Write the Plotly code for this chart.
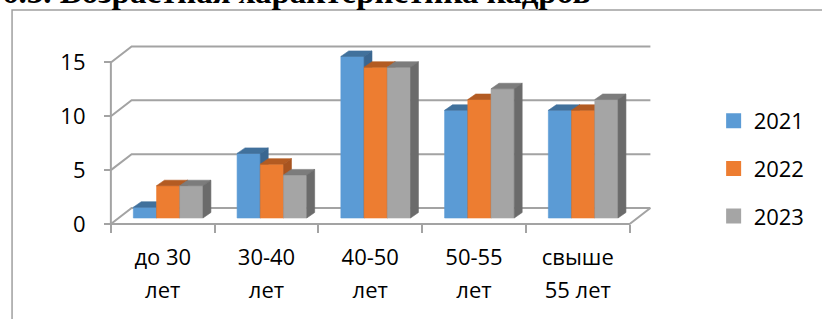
import plotly.graph_objects as go

# ---- data ----
categories = ["до 30<br>лет", "30-40<br>лет", "40-50<br>лет", "50-55<br>лет", "свыше<br>55 лет"]
years = ["2021", "2022", "2023"]
v2021 = [1, 6, 15, 10, 10]
v2022 = [3, 5, 14, 11, 10]
v2023 = [3, 4, 14, 12, 11]
y_ticks = [0, 5, 10, 15]
title_text = "6.3. Возрастная характеристика кадров"

series = [v2021, v2022, v2023]
front_cols = ["#5B9BD5", "#ED7D31", "#A5A5A5"]
top_cols = ["#41719C", "#B35B22", "#7C7C7C"]
side_cols = ["#3A6690", "#A85420", "#6B6B6B"]

# ---- geometry (pixel scale of the pseudo-3D projection) ----
W, H = 822, 319
ML, MR, MT, MB = 100, 132, 30, 85
XU = 105.0      # px per category
YU = 10.77      # px per value unit
X0PX, Y0PX = 111, 224
WALL_DX, WALL_DY = 21 / XU, 16 / YU
BAR_OX, BAR_OY = 5.5 / XU, 6 / YU
BAR_W = 23.5 / XU
BAR_DX, BAR_DY = 8 / XU, 5.5 / YU
GRID = "#A3A3A3"

ncat = len(categories)
xr = [(ML - X0PX) / XU, (W - MR - X0PX) / XU]
yr = [-(H - MB - Y0PX) / YU, (Y0PX - MT) / YU]

fig = go.Figure()

# back wall, side wall and floor lines
gx, gy = [], []
for v in y_ticks:
    gx += [0, WALL_DX, ncat + WALL_DX, None]
    gy += [v, v + WALL_DY, v + WALL_DY, None]
gx += [0, ncat, ncat + WALL_DX, None, 0, 0, None]
gy += [0, 0, WALL_DY, None, 0, max(y_ticks), None]
fig.add_trace(go.Scatter(x=gx, y=gy, mode="lines", line=dict(color=GRID, width=2),
                         hoverinfo="skip", showlegend=False))

# bars (front, top, side faces), drawn left to right
group_w = BAR_W * len(series)
for s, vals in enumerate(series):
    fx, fy, tx, ty, sx, sy = [], [], [], [], [], []
    for k, v in enumerate(vals):
        L = k + (1 - group_w) / 2 + BAR_OX + s * BAR_W
        R = L + BAR_W
        b = BAR_OY
        t = v + BAR_OY
        fx += [L, R, R, L, L, None]
        fy += [b, b, t, t, b, None]
        tx += [L, R, R + BAR_DX, L + BAR_DX, L, None]
        ty += [t, t, t + BAR_DY, t + BAR_DY, t, None]
        sx += [R, R + BAR_DX, R + BAR_DX, R, R, None]
        sy += [b, b + BAR_DY, t + BAR_DY, t, b, None]
    for px_, py_, col in ((fx, fy, front_cols[s]), (tx, ty, top_cols[s]), (sx, sy, side_cols[s])):
        fig.add_trace(go.Scatter(x=px_, y=py_, mode="lines", fill="toself", fillcolor=col,
                                 line=dict(color=col, width=0.6), hoverinfo="skip",
                                 showlegend=False))

# legend entries
for s, name in enumerate(years):
    fig.add_trace(go.Scatter(x=[None], y=[None], mode="markers", name=name,
                             legendgroup=name,
                             marker=dict(symbol="square", size=15, color=front_cols[s])))

ticktext = []
for c in categories:
    parts = c.split("<br>")
    ticktext.append("<br>".join('<span style="font-size:22px">%s</span>' % p for p in parts))

def px_to_paper_x(px):
    return (px - ML) / (W - ML - MR)

def px_to_paper_y(py):
    return 1 - (py - MT) / (H - MT - MB)

fig.update_layout(
    width=W, height=H,
    margin=dict(l=ML, r=MR, t=MT, b=MB),
    paper_bgcolor="white", plot_bgcolor="rgba(0,0,0,0)",
    font=dict(family="Open Sans", size=22, color="#000000"),
    xaxis=dict(range=xr, anchor="free", position=px_to_paper_y(Y0PX),
               tickvals=[k + 0.5 for k in range(ncat)], ticktext=ticktext,
               ticks="", showgrid=False, zeroline=False, showline=False,
               tickfont=dict(family="Open Sans", size=25, color="#000000"),
               ticklabelstandoff=15,
               minor=dict(tickvals=list(range(ncat + 1)), ticks="outside", ticklen=8,
                          tickwidth=2, tickcolor=GRID, showgrid=False)),
    yaxis=dict(range=yr, anchor="free", position=px_to_paper_x(X0PX),
               tickvals=y_ticks, ticks="outside", ticklen=7, tickwidth=2, tickcolor=GRID,
               showgrid=False, zeroline=False, showline=False,
               tickfont=dict(family="Open Sans", size=22, color="#000000"),
               ticklabelstandoff=14),
    legend=dict(x=px_to_paper_x(721), y=px_to_paper_y(100), xanchor="left", yanchor="top",
                traceorder="grouped", tracegroupgap=16, bgcolor="rgba(0,0,0,0)",
                font=dict(family="Open Sans", size=22, color="#000000")),
    showlegend=True,
    shapes=[dict(type="rect", xref="paper", yref="paper",
                 x0=px_to_paper_x(11), x1=px_to_paper_x(835),
                 y0=px_to_paper_y(335), y1=px_to_paper_y(10),
                 line=dict(color="#A0A0A0", width=1.5), fillcolor="rgba(0,0,0,0)",
                 layer="below")],
    annotations=[dict(text="<b>%s</b>" % title_text, xref="paper", yref="paper",
                      x=px_to_paper_x(-1), y=px_to_paper_y(12), xanchor="left",
                      yanchor="bottom", showarrow=False,
                      font=dict(family="Liberation Serif", size=33, color="#000000"))],
)

fig.write_html("out.html",
               config={"displayModeBar": False},
               post_script="document.body.style.margin='0px';"
                           "document.body.style.overflow='hidden';")
